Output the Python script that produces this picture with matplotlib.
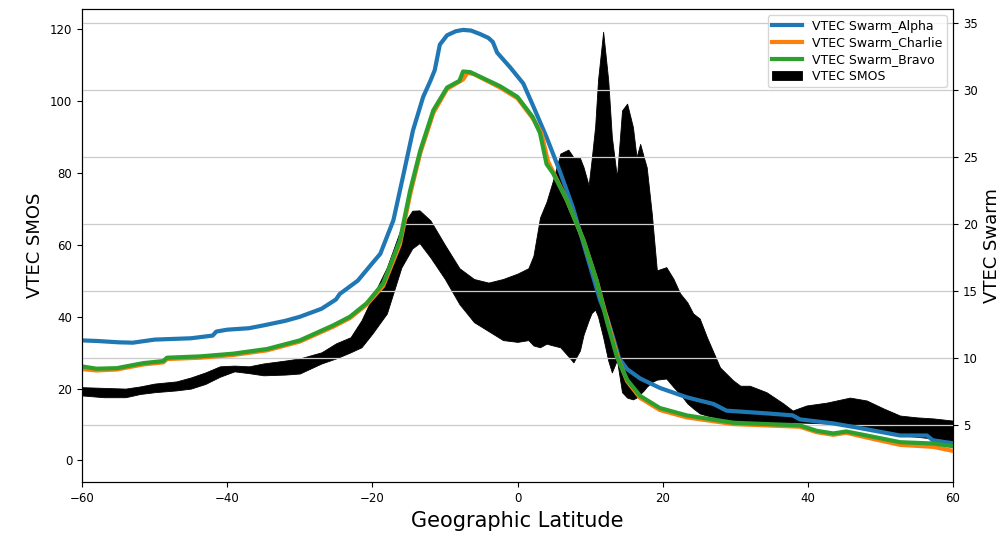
import matplotlib
matplotlib.use('Agg')
from matplotlib import pyplot as plt

# SMOS VTEC (left axis) - the noisy track shows up as a band, keep its envelope
smos_lat = [-60, -57, -54, -52, -50, -47, -45, -43, -41, -39, -37, -35, -32, -30,
            -27, -25, -23, -21.5, -20, -18, -16, -14.5, -13.5, -12, -10, -8, -6,
            -4, -2, 0, 1.5, 2.2, 3.1, 4.0, 4.9, 5.9, 7.0, 7.7, 8.6, 9.1, 9.8,
            10.2, 10.7, 11.1, 11.8, 12.5, 13.0, 13.7, 14.4, 15.1, 15.9, 16.4,
            16.9, 17.4, 17.8, 18.5, 19.2, 20.5, 21.5, 22.4, 23.4, 24.2, 25.1,
            26.1, 27.9, 29.7, 30.7, 32.0, 34.3, 36.6, 37.9, 39.8, 42.6, 45.8,
            48.1, 50.4, 52.7, 55.0, 57.3, 60]
smos_upper = [20.4, 20.2, 20.0, 20.6, 21.4, 22.0, 23.1, 24.5, 26.2, 26.4, 26.2,
              27.0, 27.8, 28.4, 30.1, 32.6, 34.3, 39.0, 45.4, 53.7, 64.9, 69.5,
              69.6, 66.8, 60.0, 53.5, 50.5, 49.5, 50.5, 52.0, 53.5, 57.0, 67.6,
              72.0, 78.0, 85.4, 86.5, 84.4, 84.2, 81.6, 76.6, 83.5, 93.0, 106.0,
              119.3, 105.8, 90.0, 78.8, 97.4, 99.3, 92.8, 84.4, 88.1, 84.4, 81.6,
              68.7, 52.9, 53.8, 50.5, 46.5, 44.0, 40.9, 39.5, 34.3, 25.9, 22.3,
              20.8, 20.8, 19.0, 15.9, 13.9, 15.3, 16.1, 17.5, 16.7, 14.5, 12.5,
              12.0, 11.7, 11.1]
smos_lower = [18.1, 17.6, 17.6, 18.5, 19.0, 19.5, 20.0, 21.3, 23.3, 24.8, 24.3,
              23.7, 23.9, 24.2, 27.0, 28.4, 30.1, 31.5, 35.3, 40.9, 53.7, 59.0,
              60.5, 56.5, 50.5, 43.5, 38.5, 36.0, 33.5, 33.0, 33.5, 32.0, 31.5,
              32.5, 32.0, 31.5, 29.0, 27.3, 30.6, 35.0, 39.0, 41.0, 42.0, 40.0,
              34.3, 27.8, 24.5, 28.0, 19.0, 17.5, 17.0, 17.5, 18.5, 19.5, 20.5,
              21.8, 22.5, 22.8, 20.4, 18.5, 15.9, 14.5, 13.1, 12.5, 11.7, 11.2,
              10.8, 10.7, 10.6, 10.6, 10.6, 10.5, 10.3, 9.6, 8.9, 7.9, 7.0,
              6.6, 6.1, 5.5]

# Swarm VTEC (right axis)
alpha_lat = [-60, -58, -55, -53, -50, -45, -42, -41.5, -40, -37, -35, -32, -30,
             -27, -25, -24.5, -22, -20, -18.9, -17.1, -15.8, -14.4, -13.0,
             -12.0, -11.4, -10.7, -9.7, -8.5, -7.5, -6.4, -5.2, -4.0, -3.4,
             -2.8, -1.0, 0.8, 2.1, 4.0, 5.8, 7.6, 9.5, 11.4, 12.3, 13.2, 14.0,
             15.1, 16.9, 19.6, 23.3, 27.0, 28.8, 34.3, 37.9, 38.9, 43.5, 47.2,
             52.7, 56.4, 57.2, 60]
alpha_vtec = [11.34, 11.3, 11.2, 11.17, 11.4, 11.5, 11.7, 12.0, 12.14, 12.25,
              12.46, 12.8, 13.1, 13.7, 14.4, 14.8, 15.8, 17.1, 17.8, 20.3, 23.5,
              27.0, 29.5, 30.7, 31.5, 33.4, 34.1, 34.4, 34.5, 34.45, 34.2, 33.9,
              33.6, 32.8, 31.7, 30.5, 28.9, 26.5, 24.0, 21.3, 17.8, 14.3, 13.1,
              11.5, 10.0, 9.2, 8.5, 7.8, 7.1, 6.6, 6.1, 5.9, 5.75, 5.45, 5.15,
              4.8, 4.25, 4.25, 3.9, 3.66]

bravo_lat = [-60, -58, -55.2, -53, -51.5, -48.8, -48.3, -43.7, -39.2, -34.5,
             -30, -25.4, -23.1, -20.8, -18.5, -16.2, -14.8, -13.4, -11.6, -9.7,
             -8.0, -7.5, -6.5, -2.4, 0, 2.1, 3.1, 4.0, 4.9, 6.8, 9.1, 10.9,
             12.3, 13.7, 15.1, 16.9, 19.6, 23.3, 29.7, 38.9, 41.2, 43.5, 45.3,
             48.1, 52.7, 57.3, 60]
bravo_vtec = [9.4, 9.23, 9.27, 9.5, 9.65, 9.8, 10.05, 10.15, 10.35, 10.7, 11.34,
              12.46, 13.1, 14.1, 15.6, 18.8, 22.5, 25.5, 28.5, 30.2, 30.7, 31.4,
              31.35, 30.3, 29.5, 28.0, 26.8, 24.5, 23.8, 21.8, 18.8, 15.8, 12.8,
              10.1, 8.4, 7.2, 6.3, 5.75, 5.2, 5.0, 4.6, 4.4, 4.55, 4.25, 3.75,
              3.65, 3.45]

charlie_lat = [-60, -58, -55.2, -53, -51.5, -48.8, -48.3, -43.7, -39.2, -34.5,
               -30, -25.4, -23.1, -20.8, -18.5, -16.2, -14.8, -13.4, -11.6,
               -9.7, -7.5, -6.9, -6.0, -2.4, 0, 2.1, 3.3, 4.2, 5.0, 6.8, 9.1,
               10.9, 12.4, 13.8, 15.1, 16.9, 19.6, 23.3, 29.7, 38.9, 41.2, 43.5,
               45.3, 48.1, 52.7, 57.3, 60]
charlie_vtec = [9.2, 9.1, 9.17, 9.4, 9.55, 9.7, 9.95, 10.05, 10.25, 10.6, 11.25,
                12.36, 13.0, 14.0, 15.4, 18.5, 22.2, 25.3, 28.3, 30.1, 30.8,
                31.3, 31.2, 30.2, 29.4, 27.9, 26.8, 24.7, 23.8, 21.8, 18.8,
                15.8, 12.8, 10.1, 8.3, 7.05, 6.15, 5.6, 5.1, 4.9, 4.5, 4.3, 4.45,
                4.1, 3.55, 3.4, 3.1]

fig, ax1 = plt.subplots(figsize=(10, 5.36), dpi=100)
fig.subplots_adjust(left=0.082, right=0.953, bottom=0.1, top=0.983)

smos = ax1.fill_between(smos_lat, smos_lower, smos_upper, color='black',
                        linewidth=0.6, label='VTEC SMOS')
ax1.set_xlim(-60, 60)
ax1.set_ylim(-6.1, 125.6)
ax1.set_xlabel('Geographic Latitude', fontsize=15)
ax1.set_ylabel('VTEC SMOS', fontsize=13)
ax1.tick_params(labelsize=8.5)

ax2 = ax1.twinx()
l1, = ax2.plot(alpha_lat, alpha_vtec, color='#1f77b4', lw=3, label='VTEC Swarm_Alpha')
l2, = ax2.plot(charlie_lat, charlie_vtec, color='#ff7f0e', lw=3, label='VTEC Swarm_Charlie')
l3, = ax2.plot(bravo_lat, bravo_vtec, color='#2ca02c', lw=3, label='VTEC Swarm_Bravo')
ax2.set_ylim(0.75, 36.05)
ax2.set_ylabel('VTEC Swarm', fontsize=13)
ax2.tick_params(labelsize=8.5)
ax2.yaxis.grid(True, color='#cccccc', lw=0.9)

ax2.legend([l1, l2, l3, smos], [h.get_label() for h in [l1, l2, l3, smos]],
           loc='upper right', fontsize=9, labelspacing=0.3, borderpad=0.35,
           handlelength=2.4)

plt.savefig('out.png')
